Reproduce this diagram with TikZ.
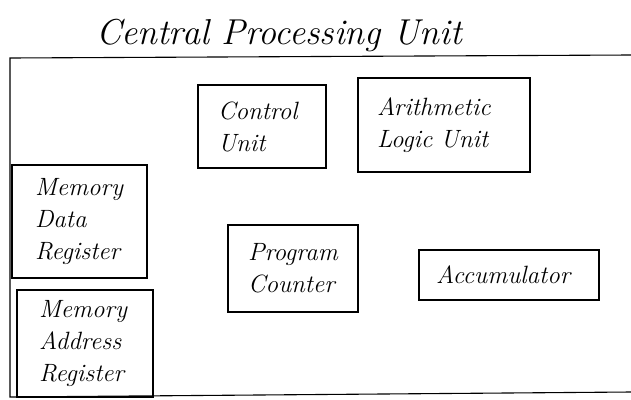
\documentclass[tikz,border=0pt]{standalone}
\usepackage{fontspec}
\begin{document}
\begin{tikzpicture}[x=1pt,y=-1pt,
  every node/.style={font=\itshape\fontsize{25}{32}\selectfont},
  unitbox/.style={draw, line width=1.1pt, rectangle, align=left, inner ysep=0pt},
  frame/.style={line width=1.1pt}]
\useasboundingbox (0,0) rectangle (631,399);
% title
\node[font=\itshape\fontsize{36}{42}\selectfont] (title) at (279,35) {Central Processing Unit};
% outer frame (open on the right)
\draw[frame] (631,55) -- (10,58) -- (10,397) -- (631,392);
% units
\node[unitbox, minimum width=128pt, minimum height=83pt, inner xsep=20pt, text width=88pt] (cu) at (262,126.5) {Control\\Unit};
\node[unitbox, minimum width=172pt, minimum height=94pt, inner xsep=19pt, text width=134pt] (alu) at (444,125) {Arithmetic\\Logic Unit};
\node[unitbox, minimum width=135pt, minimum height=113pt, inner xsep=23pt, text width=89pt] (mdr) at (79.5,221.5) {Memory\\Data\\Register};
\node[unitbox, minimum width=136pt, minimum height=107pt, inner xsep=22pt, text width=92pt] (mar) at (85,343.5) {Memory\\Address\\Register};
\node[unitbox, minimum width=130pt, minimum height=87pt, inner xsep=20pt, text width=90pt] (pc) at (293,268.5) {Program\\Counter};
\node[unitbox, minimum width=180pt, minimum height=50pt, inner xsep=17pt, text width=146pt] (acc) at (509,275) {Accumulator};
\end{tikzpicture}
\end{document}
